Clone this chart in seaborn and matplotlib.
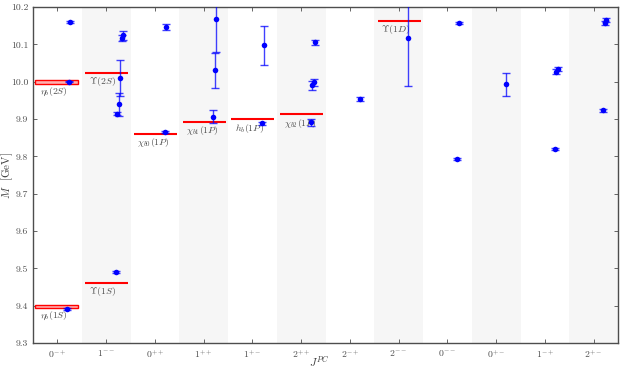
import numpy as np
import pandas as pd
import matplotlib
matplotlib.use("Agg")
import matplotlib.pyplot as plt
import seaborn as sns
from matplotlib.patches import Rectangle

# J^PC channels along the x axis
channels = ["0^{-+}", "1^{--}", "0^{++}", "1^{++}", "1^{+-}", "2^{++}",
            "2^{-+}", "2^{--}", "0^{--}", "0^{+-}", "1^{-+}", "2^{+-}"]

# lattice masses (GeV), listed by channel in increasing mass
lat_channel = [0, 0, 0,
               1, 1, 1, 1, 1, 1,
               2, 2,
               3, 3, 3,
               4, 4,
               5, 5, 5, 5,
               6,
               7,
               8, 8,
               9,
               10, 10, 10,
               11, 11, 11]
lat_mass = [9.392, 10.000, 10.159,
            9.491, 9.914, 9.940, 10.009, 10.117, 10.124,
            9.865, 10.147,
            9.906, 10.030, 10.169,
            9.888, 10.097,
            9.891, 9.990, 9.998, 10.106,
            9.953,
            10.118,
            9.793, 10.158,
            9.993,
            9.820, 10.027, 10.034,
            9.923, 10.158, 10.166]
lat_err = [0.003, 0.002, 0.003,
           0.003, 0.004, 0.031, 0.048, 0.008, 0.012,
           0.003, 0.008,
           0.018, 0.046, 0.090,
           0.004, 0.051,
           0.010, 0.011, 0.010, 0.007,
           0.006,
           0.130,
           0.003, 0.003,
           0.031,
           0.003, 0.006, 0.006,
           0.004, 0.005, 0.005]

# experimental states
exp_channel = [0, 0, 1, 1, 2, 3, 4, 5, 7]
exp_mass = [9.3990, 9.9990, 9.4603, 10.0233, 9.8594, 9.8928, 9.8993, 9.9122, 10.1637]
exp_err = [0.004, 0.005, 0, 0, 0, 0, 0, 0, 0]
exp_names = [r"$\eta_b(1S)$", r"$\eta_b(2S)$", r"$\Upsilon(1S)$", r"$\Upsilon(2S)$",
             r"$\chi_{b0}(1P)$", r"$\chi_{b1}(1P)$", r"$h_b(1P)$", r"$\chi_{b2}(1P)$",
             r"$\Upsilon(1D)$"]

sns.set_style("ticks")
plt.rcParams["font.family"] = "serif"
plt.rcParams["font.serif"] = ["cmr10", "DejaVu Serif"]
plt.rcParams["mathtext.fontset"] = "cm"
plt.rcParams["axes.unicode_minus"] = False
plt.rcParams["axes.formatter.use_mathtext"] = True

df = pd.DataFrame({"channel": lat_channel, "mass": lat_mass, "err": lat_err})
df["k"] = df.groupby("channel").cumcount()
df["x"] = df["channel"] + 0.2 + 0.03 * df["k"]

fig = plt.figure(figsize=(6.23, 3.70), dpi=100)
ax = fig.add_axes([0.053, 0.073, 0.939, 0.908])

# alternating background bands
for i in range(len(channels)):
    if i % 2 == 1:
        ax.axvspan(i - 0.5, i + 0.5, color="#f6f6f6", lw=0, zorder=0)

# experimental levels
for c, m, e, name in zip(exp_channel, exp_mass, exp_err, exp_names):
    if e > 0:
        ax.add_patch(Rectangle((c - 0.45, m - e), 0.88, 2 * e, facecolor="#ffb0b0",
                               edgecolor="red", lw=1.0, zorder=2))
    else:
        ax.hlines(m, c - 0.43, c + 0.45, color="red", lw=1.5, zorder=2)
    ax.text(c - 0.36, m - e - 0.006, name, fontsize=7, color="0.3",
            ha="left", va="top", zorder=3)

# lattice results
ax.errorbar(df["x"], df["mass"], yerr=df["err"], fmt="none", ecolor="blue",
            elinewidth=1.0, capsize=3, capthick=1.0, alpha=0.75, zorder=4)
sns.scatterplot(data=df, x="x", y="mass", ax=ax, color="blue", s=16,
                edgecolor="blue", linewidth=0, zorder=5, legend=False)

ax.set_xlim(-0.5, len(channels) - 0.5)
ax.set_ylim(9.3, 10.2)
ax.set_xticks(range(len(channels)))
ax.set_xticklabels(["$" + c + "$" for c in channels])
ax.set_yticks(np.arange(9.3, 10.21, 0.1))
ax.set_yticklabels(["%.1f" % v for v in np.arange(9.3, 10.21, 0.1)])
ax.tick_params(direction="in", top=True, right=True, labelsize=7, colors="0.3",
               length=3, width=0.6)
ax.set_xlabel(r"$J^{PC}$", fontsize=8, color="0.25")
ax.set_ylabel(r"$M$  [GeV]", fontsize=8, color="0.25")
ax.xaxis.set_label_coords(0.49, -0.033)
ax.yaxis.set_label_coords(-0.030, 0.5)
for s in ax.spines.values():
    s.set_color("0.3")
    s.set_linewidth(1.0)

fig.savefig("out.png", dpi=100)
